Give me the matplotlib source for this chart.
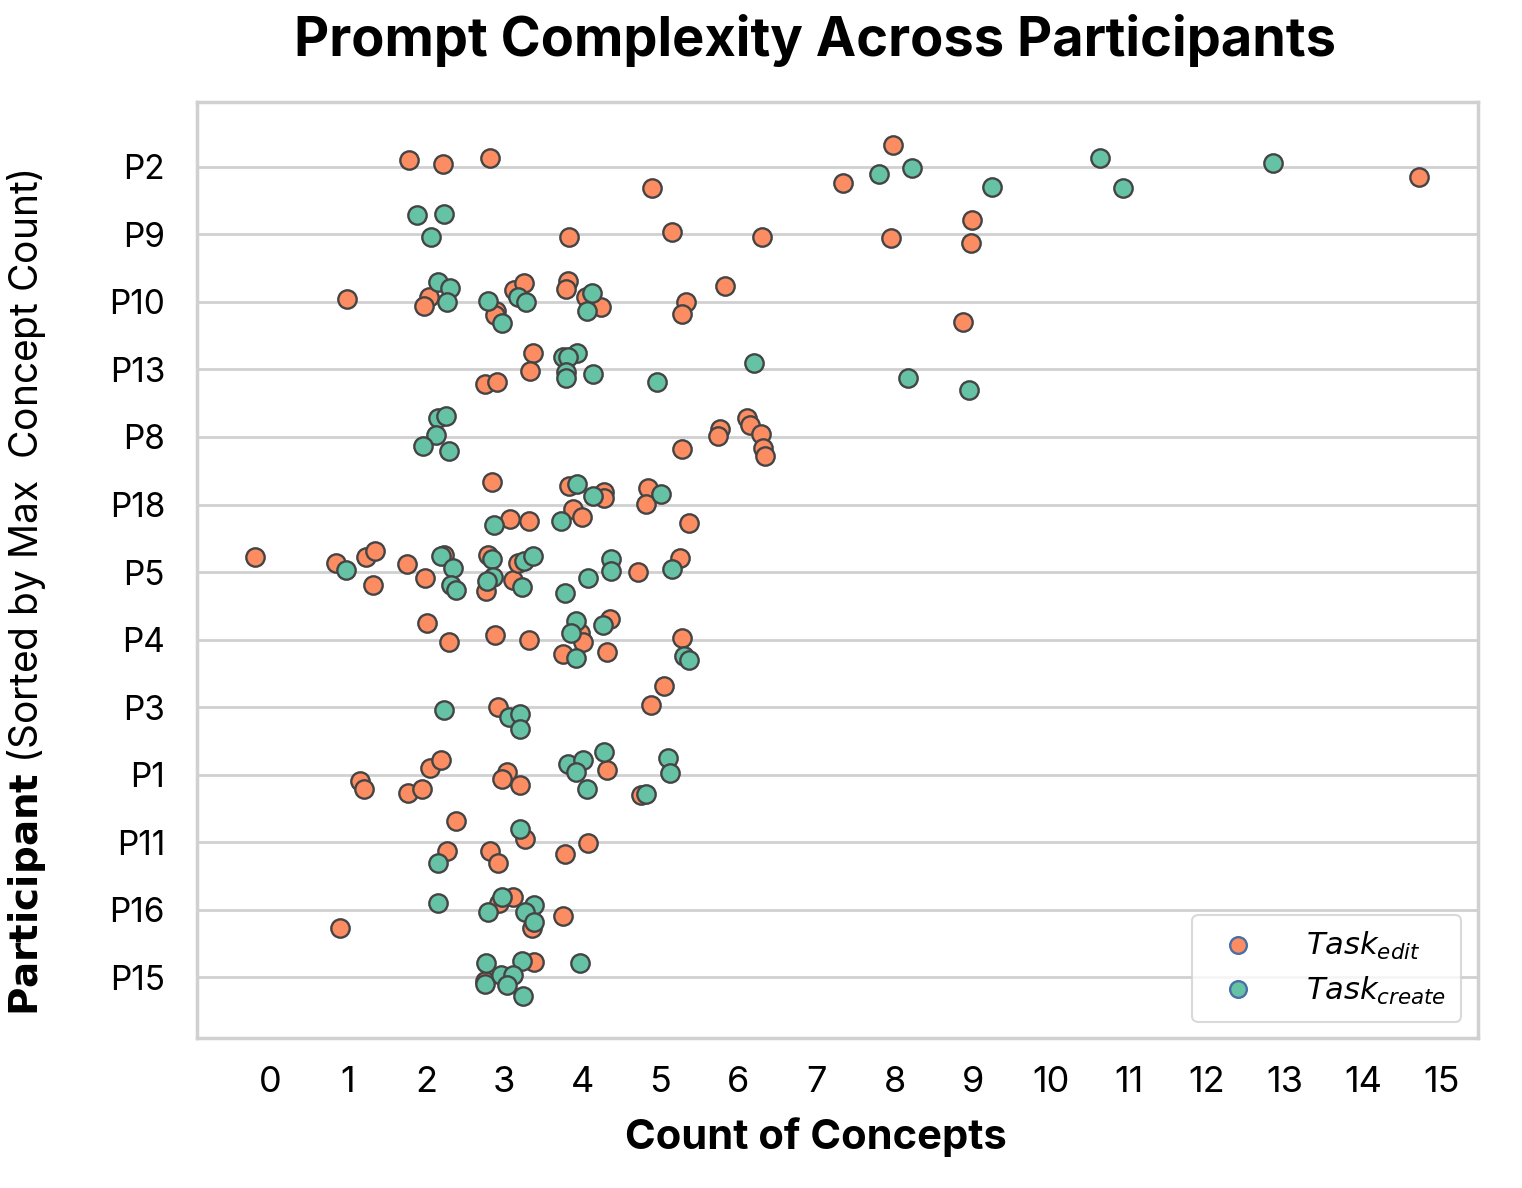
import matplotlib.pyplot as plt
from matplotlib.lines import Line2D

plt.rcParams['font.family'] = ['Inter', 'DejaVu Sans']

# participants, top to bottom
participants = ["P2", "P9", "P10", "P13", "P8", "P18", "P5", "P4", "P3", "P1", "P11", "P16", "P15"]

# Task_edit: concept counts (as plotted, with jitter) and vertical jitter
edit_counts = {
    "P2": [1.78, 2.22, 2.82, 4.89, 7.98, 7.34, 14.72],
    "P9": [3.83, 5.15, 6.30, 8.99, 7.95, 8.98],
    "P10": [0.99, 2.04, 1.97, 2.89, 2.88, 3.13, 3.25, 3.82, 3.79, 4.05, 4.24, 5.33, 5.28, 5.83, 8.88],
    "P13": [3.37, 3.33, 2.75, 2.91],
    "P8": [5.28, 5.76, 5.74, 6.11, 6.15, 6.29, 6.31, 6.34],
    "P18": [2.84, 3.83, 4.28, 4.28, 4.84, 4.82, 3.88, 4.00, 3.07, 3.32, 5.37],
    "P5": [-0.19, 0.85, 1.23, 1.34, 1.32, 1.75, 1.99, 2.23, 2.79, 2.77, 3.11, 3.18, 4.71, 5.25],
    "P4": [2.01, 2.29, 2.88, 3.32, 3.97, 4.01, 3.75, 4.36, 4.32, 5.28],
    "P3": [5.05, 4.88, 2.92],
    "P1": [1.15, 1.20, 1.77, 1.95, 2.05, 2.19, 3.04, 2.97, 3.20, 4.32, 4.75],
    "P11": [2.38, 3.27, 2.27, 2.82, 2.92, 3.78, 4.07],
    "P16": [0.90, 3.11, 2.93, 3.36, 3.75],
    "P15": [3.38, 2.75],
}
edit_jitter = {
    "P2": [-0.10, -0.04, -0.13, 0.31, -0.33, 0.24, 0.15],
    "P9": [0.04, -0.03, 0.04, -0.21, 0.06, 0.12],
    "P10": [-0.04, -0.07, 0.06, 0.13, 0.19, -0.18, -0.28, -0.31, -0.19, -0.07, 0.07, 0.00, 0.18, -0.24, 0.30],
    "P13": [-0.24, 0.03, 0.21, 0.19],
    "P8": [0.18, -0.12, -0.01, -0.28, -0.18, -0.04, 0.16, 0.28],
    "P18": [-0.34, -0.27, -0.19, -0.09, -0.25, -0.01, 0.07, 0.19, 0.21, 0.25, 0.28],
    "P5": [-0.22, -0.13, -0.22, -0.31, 0.19, -0.12, 0.09, -0.25, -0.25, 0.28, 0.12, -0.13, 0.00, -0.21],
    "P4": [-0.24, 0.03, -0.07, 0.00, -0.09, 0.03, 0.21, -0.31, 0.18, -0.03],
    "P3": [-0.31, -0.03, 0.00],
    "P1": [0.09, 0.22, 0.27, 0.22, -0.10, -0.21, -0.04, 0.07, 0.15, -0.07, 0.30],
    "P11": [-0.31, -0.04, 0.13, 0.13, 0.31, 0.18, 0.01],
    "P16": [0.27, -0.19, -0.10, 0.27, 0.09],
    "P15": [-0.22, 0.06],
}

# Task_create
create_counts = {
    "P2": [7.80, 8.22, 9.24, 10.63, 10.93, 12.85],
    "P9": [1.88, 2.23, 2.06],
    "P10": [2.15, 2.31, 2.27, 2.79, 2.97, 3.18, 3.28, 4.12, 4.06],
    "P13": [3.75, 3.93, 3.82, 3.79, 3.79, 4.14, 4.96, 6.20, 8.17, 8.95],
    "P8": [2.15, 2.25, 2.13, 1.96, 2.29],
    "P18": [3.93, 4.14, 5.01, 3.73, 2.87],
    "P5": [0.97, 2.19, 2.34, 2.32, 2.38, 2.84, 2.86, 2.78, 3.23, 3.25, 3.37, 3.78, 4.07, 4.37, 4.37, 5.15],
    "P4": [3.92, 3.86, 3.92, 4.27, 5.30, 5.37],
    "P3": [2.23, 3.06, 3.20, 3.20],
    "P1": [3.82, 4.01, 3.92, 4.28, 4.06, 5.10, 5.12, 4.82],
    "P11": [3.20, 2.15],
    "P16": [2.15, 2.97, 2.79, 3.38, 3.27, 3.38],
    "P15": [2.77, 3.23, 3.97, 2.75, 2.96, 3.11, 3.04, 3.24],
}
create_jitter = {
    "P2": [0.10, 0.01, 0.30, -0.13, 0.31, -0.06],
    "P9": [-0.28, -0.30, 0.04],
    "P10": [-0.30, -0.21, 0.00, -0.01, 0.31, -0.07, 0.00, -0.13, 0.13],
    "P13": [-0.19, -0.24, -0.18, 0.04, 0.12, 0.06, 0.18, -0.09, 0.13, 0.31],
    "P8": [-0.28, -0.31, -0.03, 0.13, 0.21],
    "P18": [-0.30, -0.12, -0.16, 0.25, 0.31],
    "P5": [-0.03, -0.24, -0.06, 0.19, 0.27, -0.19, 0.07, 0.13, 0.22, -0.16, -0.24, 0.31, 0.09, -0.19, -0.01, -0.04],
    "P4": [-0.27, -0.10, 0.27, -0.21, 0.24, 0.31],
    "P3": [0.04, 0.15, 0.10, 0.33],
    "P1": [-0.15, -0.21, -0.04, -0.33, 0.22, -0.24, -0.03, 0.28],
    "P11": [-0.19, 0.31],
    "P16": [-0.10, -0.19, 0.03, -0.07, 0.04, 0.19],
    "P15": [-0.21, -0.24, -0.21, 0.10, -0.03, -0.03, 0.12, 0.28],
}

edit_color = '#fc8d62'
create_color = '#66c2a5'

fig = plt.figure(figsize=(15.22, 11.88), dpi=100)
ax = fig.add_axes([0.1294, 0.1263, 0.8417, 0.7878])

for i, p in enumerate(participants):
    ax.scatter(edit_counts[p], [i + d for d in edit_jitter[p]], s=175, color=edit_color,
               edgecolor='#444444', linewidth=1.7, zorder=3)
for i, p in enumerate(participants):
    ax.scatter(create_counts[p], [i + d for d in create_jitter[p]], s=175, color=create_color,
               edgecolor='#444444', linewidth=1.7, zorder=3)

ax.set_xlim(-0.935, 15.47)
ax.set_ylim(len(participants) - 1 + 0.9, -0.96)
ax.set_xticks(range(0, 16))
ax.set_yticks(range(len(participants)))
ax.set_yticklabels(participants)
ax.tick_params(axis='x', length=0, labelsize=26, pad=20)
ax.tick_params(axis='y', length=0, labelsize=24, pad=23)
ax.grid(axis='y', color='#d0d0d0', linewidth=2)
ax.set_axisbelow(True)
for s in ax.spines.values():
    s.set_color('#d0d0d0')
    s.set_linewidth(2.5)

ax.set_xlabel('Count of Concepts', fontsize=30, fontweight='bold')
ax.xaxis.set_label_coords(0.483, -0.085)
ax.set_ylabel(r'$\bf{Participant}$ (Sorted by Max  Concept Count)', fontsize=28)
ax.yaxis.set_label_coords(-0.116, 0.476)
fig.text(0.5355, 0.966, 'Prompt Complexity Across Participants', fontsize=39,
         fontweight='bold', ha='center', va='center')

handles = [
    Line2D([], [], marker='o', linestyle='', markersize=12, markerfacecolor=edit_color,
           markeredgecolor='#4a6fa5', markeredgewidth=1.7),
    Line2D([], [], marker='o', linestyle='', markersize=12, markerfacecolor=create_color,
           markeredgecolor='#4a6fa5', markeredgewidth=1.7),
]
leg = ax.legend(handles, [r'$\mathit{Task}_{edit}$', r'$\mathit{Task}_{create}$'],
                loc='lower right', fontsize=22, frameon=True, handletextpad=1.2,
                borderpad=0.5, labelspacing=0.4, borderaxespad=0,
                bbox_to_anchor=(0.9867, 0.017))
leg.get_frame().set_edgecolor('#d0d0d0')
leg.get_frame().set_linewidth(1.5)

fig.savefig('out.png', dpi=100)
